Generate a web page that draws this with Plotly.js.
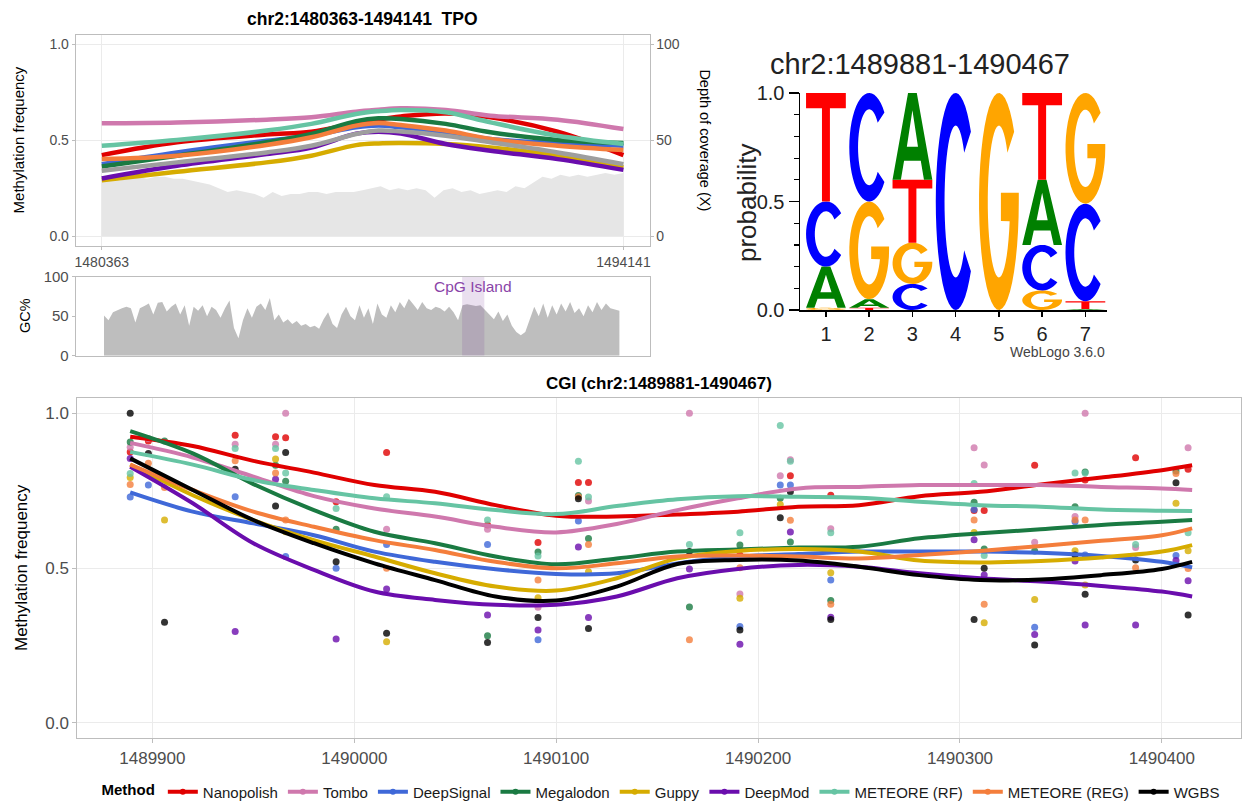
<!DOCTYPE html>
<html><head><meta charset="utf-8">
<script src="https://cdn.plot.ly/plotly-3.0.1.min.js"></script>
<style>html,body{margin:0;padding:0;background:#fff;}#chart{width:1243px;height:803px;}</style>
</head><body><div id="chart"></div>
<script>
const W = 1243, H = 803;
const FONT = 'Liberation Sans, Arial, Helvetica, sans-serif';

// ---------------- DATA ----------------
const methods = ['Nanopolish','Tombo','DeepSignal','Megalodon','Guppy','DeepMod','METEORE (RF)','METEORE (REG)','WGBS'];
const methodColors = ['#e00000','#cf78ad','#3f68d8','#1a7a42','#d6ac00','#6a0dad','#66c4a3','#f47e3c','#000000'];
const topWgbsColor = '#9e9e9e';

const geneRegion = [1480363, 1494141];
const cgiRegion = [1489881, 1490467];

// top panel: smoothed methylation along TPO
const topPos = [1480363, 1482350, 1484715, 1485898, 1487080, 1487672, 1488263, 1489446, 1490629, 1492403, 1494141];
const topNanopolish = [0.423, 0.490, 0.530, 0.545, 0.590, 0.610, 0.625, 0.640, 0.620, 0.545, 0.423];
const topTombo      = [0.589, 0.593, 0.608, 0.621, 0.650, 0.660, 0.668, 0.659, 0.629, 0.608, 0.559];
const topDeepSignal = [0.376, 0.437, 0.498, 0.524, 0.568, 0.577, 0.568, 0.542, 0.507, 0.486, 0.472];
const topMegalodon  = [0.364, 0.420, 0.490, 0.533, 0.600, 0.615, 0.612, 0.586, 0.542, 0.502, 0.486];
const topGuppy      = [0.292, 0.336, 0.385, 0.420, 0.475, 0.484, 0.486, 0.481, 0.463, 0.420, 0.358];
const topDeepMod    = [0.301, 0.367, 0.428, 0.463, 0.535, 0.545, 0.535, 0.481, 0.446, 0.402, 0.346];
const topRF         = [0.472, 0.502, 0.551, 0.586, 0.638, 0.652, 0.659, 0.647, 0.594, 0.524, 0.481];
const topREG        = [0.402, 0.420, 0.476, 0.516, 0.577, 0.591, 0.580, 0.551, 0.507, 0.472, 0.449];
const topWGBS       = [0.341, 0.385, 0.437, 0.472, 0.533, 0.551, 0.546, 0.524, 0.490, 0.437, 0.376];

// depth of coverage (X), evenly spaced over the gene
const coverageDepth = [29,30,29,30,31,30,31,31,30,30,29,28,27,25,23,24,23,22,20,23,21,22,22,23,23,22,23,23,23,24,25,26,24,25,24,25,24,20,24,25,23,24,22,23,24,23,26,25,28,31,30,32,31,32,31,32,33,32,33];
const depthAxisMax = 100; // right axis 0-100 X  <->  left axis 0-1

// GC% windows
const gcStart = 1480422, gcEnd = 1494035;
const gcPercent = [51,45,55,58,60,62,60,42,60,63,66,52,67,68,56,62,66,52,64,38,62,57,64,50,62,58,48,60,70,35,22,45,60,48,62,66,58,73,45,52,42,46,40,44,38,40,36,38,34,46,55,40,35,52,62,50,45,64,48,60,40,66,52,48,64,55,68,60,72,65,58,68,60,58,62,60,56,62,55,45,64,65,64,63,64,58,52,46,56,44,52,38,30,26,30,45,62,50,66,48,64,52,66,56,68,54,60,50,64,55,68,58,66,60,58,57];

// sequence logo probabilities (positions 1..7)
const logoPositions = [1,2,3,4,5,6,7];
const probA = [0.19, 0.04, 0.40, 0, 0, 0.30, 0.005];
const probC = [0.30, 0.50, 0.12, 1.0, 0, 0.21, 0.45];
const probG = [0.01, 0.45, 0.19, 0, 1.0, 0.09, 0.51];
const probT = [0.50, 0.01, 0.29, 0, 0, 0.40, 0.035];
const logoColors = {A:'#008000', C:'#0000ff', G:'#ffa500', T:'#ff0000'};

// CGI panel: per-CpG methylation frequencies
const cpgSites = [1489889,1489898,1489906,1489941,1489961,1489966,1489991,1490016,1490066,1490091,1490111,1490116,1490166,1490191,1490211,1490216,1490236,1490307,1490312,1490337,1490357,1490362,1490387,1490407,1490413];
const ptNanopolish = [0.875,0.91,null,0.929,0.924,0.921,0.714,0.873,0.639,0.582,0.776,0.776,null,0.542,null,0.798,0.735,0.686,0.686,0.832,null,0.784,0.856,null,0.819];
const ptTombo      = [0.89,0.918,null,0.90,0.90,1.0,null,0.625,0.625,0.373,null,0.716,1.0,0.416,0.798,0.85,0.627,0.888,0.833,0.583,0.666,1.0,0.566,null,0.888];
const ptDeepSignal = [0.729,0.768,null,0.73,null,0.537,0.499,0.576,0.576,0.268,0.652,null,null,0.311,0.768,0.768,0.461,0.689,null,0.309,0.649,0.542,null,0.54,null];
const ptMegalodon  = [0.907,null,0.91,null,0.832,0.78,0.625,null,0.281,0.552,0.734,0.595,0.374,0.574,0.725,0.584,0.395,0.712,0.561,0.555,0.698,0.81,null,0.813,null];
const ptGuppy      = [0.792,null,0.655,null,0.852,0.617,null,0.262,null,0.404,null,0.488,null,0.402,0.705,null,0.485,0.615,0.323,0.398,0.556,0.445,null,0.709,0.556];
const ptDeepMod    = [0.854,null,null,0.295,0.787,null,0.271,0.432,0.348,0.30,0.568,0.34,0.497,0.254,null,0.616,0.341,0.591,0.477,0.285,0.523,0.316,0.316,0.524,0.459];
const ptRF         = [0.805,null,null,0.886,0.886,0.807,0.692,0.73,0.655,0.539,0.845,0.729,0.576,0.614,0.96,0.845,0.614,0.773,0.54,null,0.807,0.807,0.576,null,0.614];
const ptREG        = [0.77,0.838,0.76,0.846,0.807,0.655,null,0.499,null,0.461,0.73,0.576,0.268,0.501,null,0.654,0.383,0.655,0.383,null,0.655,0.655,0.501,0.805,0.498];
const ptWGBS       = [1.0,0.87,0.325,0.819,0.70,0.873,0.52,0.289,0.259,0.34,0.724,0.305,0.553,0.30,0.662,0.746,0.334,0.334,0.499,0.251,0.542,0.415,0.526,0.775,0.348];

// CGI panel: smoothed curves
const smPos = [1489889,1489920,1489950,1489980,1490010,1490040,1490070,1490100,1490130,1490160,1490190,1490220,1490250,1490280,1490310,1490340,1490370,1490400,1490415];
const smNanopolish = [0.924,0.894,0.846,0.808,0.768,0.746,0.703,0.669,0.666,0.673,0.682,0.698,0.703,0.732,0.746,0.770,0.792,0.816,0.832];
const smTombo      = [0.904,0.857,0.795,0.732,0.692,0.666,0.633,0.615,0.642,0.687,0.725,0.757,0.762,0.768,0.768,0.768,0.762,0.757,0.752];
const smDeepSignal = [0.744,0.682,0.644,0.606,0.553,0.520,0.496,0.481,0.483,0.515,0.537,0.545,0.553,0.553,0.553,0.549,0.539,0.520,0.502];
const smMegalodon  = [0.942,0.870,0.771,0.687,0.617,0.580,0.537,0.512,0.531,0.553,0.560,0.566,0.569,0.596,0.612,0.625,0.639,0.649,0.655];
const smGuppy      = [0.834,0.735,0.655,0.590,0.537,0.483,0.440,0.427,0.467,0.531,0.555,0.561,0.553,0.524,0.518,0.523,0.534,0.553,0.574];
const smDeepMod    = [0.827,0.709,0.580,0.494,0.424,0.397,0.381,0.381,0.408,0.467,0.497,0.510,0.504,0.483,0.467,0.456,0.442,0.424,0.408];
const smRF         = [0.875,0.834,0.784,0.752,0.725,0.709,0.687,0.674,0.700,0.722,0.732,0.730,0.727,0.714,0.703,0.698,0.689,0.685,0.684];
const smREG        = [0.834,0.752,0.682,0.633,0.590,0.558,0.520,0.499,0.515,0.537,0.540,0.537,0.531,0.542,0.555,0.571,0.588,0.606,0.628];
const smWGBS       = [0.854,0.752,0.655,0.580,0.515,0.461,0.408,0.395,0.440,0.513,0.526,0.524,0.504,0.477,0.461,0.463,0.477,0.497,0.520];

const topSeries = [topNanopolish, topTombo, topDeepSignal, topMegalodon, topGuppy, topDeepMod, topRF, topREG, topWGBS];
const ptSeries  = [ptNanopolish, ptTombo, ptDeepSignal, ptMegalodon, ptGuppy, ptDeepMod, ptRF, ptREG, ptWGBS];
const smSeries  = [smNanopolish, smTombo, smDeepSignal, smMegalodon, smGuppy, smDeepMod, smRF, smREG, smWGBS];

// ---------------- helpers ----------------
const px = v => v / W;
const py = v => 1 - v / H;
function expand(lo, hi, f){ const s = hi - lo; return [lo - f*s, hi + f*s]; }

const topRange = expand(geneRegion[0], geneRegion[1], 0.05);
const cgiRange = expand(Math.min(...cpgSites), Math.max(...cpgSites), 0.05);

// ---------------- traces ----------------
const traces = [];
const covX = coverageDepth.map((_, i) => geneRegion[0] + i*(geneRegion[1]-geneRegion[0])/(coverageDepth.length-1));
traces.push({x: covX, y: coverageDepth.map(d => d/depthAxisMax), xaxis:'x', yaxis:'y', mode:'lines',
  fill:'tozeroy', fillcolor:'#e6e6e6', line:{width:0, color:'#e6e6e6'}, showlegend:false, hoverinfo:'skip'});
traces.push({x:[geneRegion[0]], y:[null], xaxis:'x', yaxis:'y2', mode:'lines', showlegend:false, hoverinfo:'skip'});
topSeries.forEach((s, k) => {
  traces.push({x: topPos, y: s, xaxis:'x', yaxis:'y', mode:'lines', showlegend:false, hoverinfo:'skip',
    line:{color: k === 8 ? topWgbsColor : methodColors[k], width:4.5, shape:'spline', smoothing:1}});
});

const gcX = gcPercent.map((_, i) => gcStart + i*(gcEnd-gcStart)/(gcPercent.length-1));
traces.push({x: gcX, y: gcPercent, xaxis:'x2', yaxis:'y3', mode:'lines', fill:'tozeroy',
  fillcolor:'#bebebe', line:{width:0, color:'#bebebe'}, showlegend:false, hoverinfo:'skip'});

ptSeries.forEach((s, k) => {
  traces.push({x: cpgSites, y: s, xaxis:'x4', yaxis:'y5', mode:'markers', showlegend:false, hoverinfo:'skip',
    marker:{color: methodColors[k], size:7, opacity:0.8, line:{width:0}}});
});
smSeries.forEach((s, k) => {
  traces.push({x: smPos, y: s, xaxis:'x4', yaxis:'y5', mode:'lines', showlegend:false, hoverinfo:'skip',
    line:{color: methodColors[k], width:4, shape:'spline', smoothing:1}});
});
methods.forEach((m, k) => {
  traces.push({x:[null], y:[null], xaxis:'x4', yaxis:'y5', mode:'lines+markers', name:m, showlegend:true,
    line:{color: methodColors[k], width:4}, marker:{color: methodColors[k], size:6}});
});

// ---------------- logo glyphs ----------------
function ell(cx, cy, rx, ry, a0, a1, n){
  const pts = [];
  for (let k = 0; k <= n; k++){
    const a = (a0 + (a1 - a0)*k/n) * Math.PI/180;
    pts.push([cx + rx*Math.cos(a), cy + ry*Math.sin(a)]);
  }
  return pts;
}
const glyphs = {
  T: [[[0,1],[1,1],[1,0.86],[0.6,0.86],[0.6,0],[0.4,0],[0.4,0.86],[0,0.86]]],
  A: [[[0,0],[0.21,0],[0.29,0.22],[0.71,0.22],[0.79,0],[1,0],[0.61,1],[0.39,1]],
      [[0.36,0.38],[0.5,0.8],[0.64,0.38]]],
  C: [[...ell(0.5,0.5,0.5,0.5,40,320,40), ...ell(0.5,0.5,0.28,0.35,320,40,40)]],
  G: [[...ell(0.5,0.5,0.5,0.5,40,360,40), [1,0.54],[0.55,0.54],[0.55,0.41], ...ell(0.5,0.5,0.28,0.35,345,40,40)]]
};
const letterWidth = 0.92;
function glyphPath(letter, xc, y0, h){
  return glyphs[letter].map(poly => 'M' + poly.map(p =>
    (xc + (p[0]-0.5)*letterWidth).toFixed(4) + ',' + (y0 + p[1]*h).toFixed(5)).join('L') + 'Z').join(' ');
}
const shapes = [];
shapes.push({type:'rect', xref:'x2', yref:'y3', x0:cgiRegion[0], x1:cgiRegion[1], y0:0, y1:100,
  fillcolor:'rgba(104,34,139,0.14)', line:{width:0}, layer:'above'});
logoPositions.forEach((pos, i) => {
  const stack = [['A',probA[i]],['C',probC[i]],['G',probG[i]],['T',probT[i]]]
    .filter(d => d[1] > 0).sort((a,b) => a[1]-b[1]);
  let y = 0;
  stack.forEach(([L, p]) => {
    shapes.push({type:'path', xref:'x3', yref:'y4', path: glyphPath(L, pos, y, p),
      fillcolor: logoColors[L], line:{width:0}, layer:'above'});
    y += p;
  });
});

// ---------------- layout ----------------
const grid = '#ebebeb', border = '#bdbdbd', tickc = '#4d4d4d';
function ann(text, x, y, size, extra){
  return Object.assign({text, x:px(x), y:py(y), xref:'paper', yref:'paper', showarrow:false,
    xanchor:'center', yanchor:'middle', font:{size, color:'#000', family:FONT}}, extra || {});
}
const annotations = [
  ann('<b>chr2:1480363-1494141\u00a0\u00a0TPO</b>', 362.6, 19, 17.5),
  ann('Methylation frequency', 18, 140.4, 15, {textangle:-90}),
  ann('Depth of coverage (X)', 705, 140.4, 14.5, {textangle:90}),
  ann('GC%', 25, 316, 14.5, {textangle:-90}),
  {text:'CpG Island', x:(cgiRegion[0]+cgiRegion[1])/2, y:87, xref:'x2', yref:'y3', showarrow:false,
    xanchor:'center', yanchor:'middle', font:{size:15.5, color:'#8a45a8', family:FONT}},
  ann('chr2:1489881-1490467', 920, 64, 29, {font:{size:29, color:'#222', family:FONT}}),
  ann('probability', 747, 203, 26, {textangle:-90, font:{size:26, color:'#222', family:FONT}}),
  ann('WebLogo 3.6.0', 1107, 352, 14, {xanchor:'right', font:{size:14, color:'#444', family:FONT}}),
  ann('<b>CGI (chr2:1489881-1490467)</b>', 659, 383, 17),
  ann('Methylation frequency', 21, 568, 17, {textangle:-90})
];

const layout = {
  width: W, height: H, margin:{l:0, r:0, t:0, b:0, autoexpand:false},
  paper_bgcolor:'#fff', plot_bgcolor:'rgba(0,0,0,0)',
  font:{family:FONT, color:'#000'},
  showlegend:true,
  legend:{orientation:'h', x:px(662), xanchor:'center', y:py(792), yanchor:'middle',
    font:{size:15, color:'#1a1a1a'}, title:{text:'<b>Method</b>', font:{size:15, color:'#000'}},
    itemwidth:30, bgcolor:'rgba(0,0,0,0)', traceorder:'normal'},
  xaxis:{domain:[px(75.7), px(649.5)], range:topRange, anchor:'y', tickmode:'array', tickvals:geneRegion,
    tickformat:'d', showgrid:true, gridcolor:grid, showline:true, mirror:true, linecolor:border, linewidth:1,
    ticks:'outside', ticklen:3, tickcolor:border, tickfont:{size:14, color:tickc}, zeroline:false},
  yaxis:{domain:[py(245.7), py(35)], range:[-0.05, 1.05], anchor:'x', tickmode:'array', tickvals:[0,0.5,1],
    tickformat:'.1f', showgrid:true, gridcolor:grid, showline:true, mirror:true, linecolor:border, linewidth:1,
    ticks:'outside', ticklen:3, tickcolor:border, tickfont:{size:14, color:tickc}, zeroline:false},
  yaxis2:{overlaying:'y', side:'right', anchor:'x', range:[-5, 105], tickmode:'array', tickvals:[0,50,100],
    showgrid:false, showline:false, ticks:'outside', ticklen:3, tickcolor:border,
    tickfont:{size:14, color:tickc}, zeroline:false},
  xaxis2:{domain:[px(75.7), px(649.5)], range:topRange, anchor:'y3', showticklabels:false, ticks:'',
    showgrid:false, showline:true, mirror:true, linecolor:border, linewidth:1, zeroline:false},
  yaxis3:{domain:[py(355.7), py(276.7)], range:[0, 100], anchor:'x2', tickmode:'array', tickvals:[0,50,100],
    showgrid:false, showline:true, mirror:true, linecolor:border, linewidth:1, ticks:'outside', ticklen:3,
    tickcolor:border, tickfont:{size:15, color:tickc}, zeroline:false},
  xaxis3:{domain:[px(800), px(1107)], range:[0.4, 7.5], anchor:'y4', tickmode:'array', tickvals:logoPositions,
    showgrid:false, showline:true, linecolor:'#000', linewidth:1.5, ticks:'outside', ticklen:5, tickwidth:1.5,
    tickcolor:'#000', tickfont:{size:20, color:'#222'}, zeroline:false},
  yaxis4:{domain:[py(310), py(93)], range:[0, 1], anchor:'x3', tickmode:'linear', tick0:0, dtick:0.5,
    tickformat:'.1f', showgrid:false, showline:true, linecolor:'#000', linewidth:1.5, ticks:'outside',
    ticklen:10, tickwidth:1.5, tickcolor:'#000', tickfont:{size:20, color:'#222'}, zeroline:false,
    minor:{dtick:0.1, tick0:0, ticks:'outside', ticklen:5, tickwidth:1.2, tickcolor:'#000', showgrid:false}},
  xaxis4:{domain:[px(77.3), px(1241)], range:cgiRange, anchor:'y5', tickmode:'linear', tick0:1489900, dtick:100,
    tickformat:'d', showgrid:true, gridcolor:grid, showline:true, mirror:true, linecolor:border, linewidth:1,
    ticks:'outside', ticklen:4, tickcolor:border, tickfont:{size:17, color:tickc}, zeroline:false},
  yaxis5:{domain:[py(738.3), py(397.7)], range:[-0.05, 1.05], anchor:'x4', tickmode:'array', tickvals:[0,0.5,1],
    tickformat:'.1f', showgrid:true, gridcolor:grid, showline:true, mirror:true, linecolor:border, linewidth:1,
    ticks:'outside', ticklen:4, tickcolor:border, tickfont:{size:17, color:tickc}, zeroline:false},
  shapes, annotations
};

Plotly.newPlot('chart', traces, layout, {displayModeBar:false, staticPlot:true});
</script>
</body></html>
